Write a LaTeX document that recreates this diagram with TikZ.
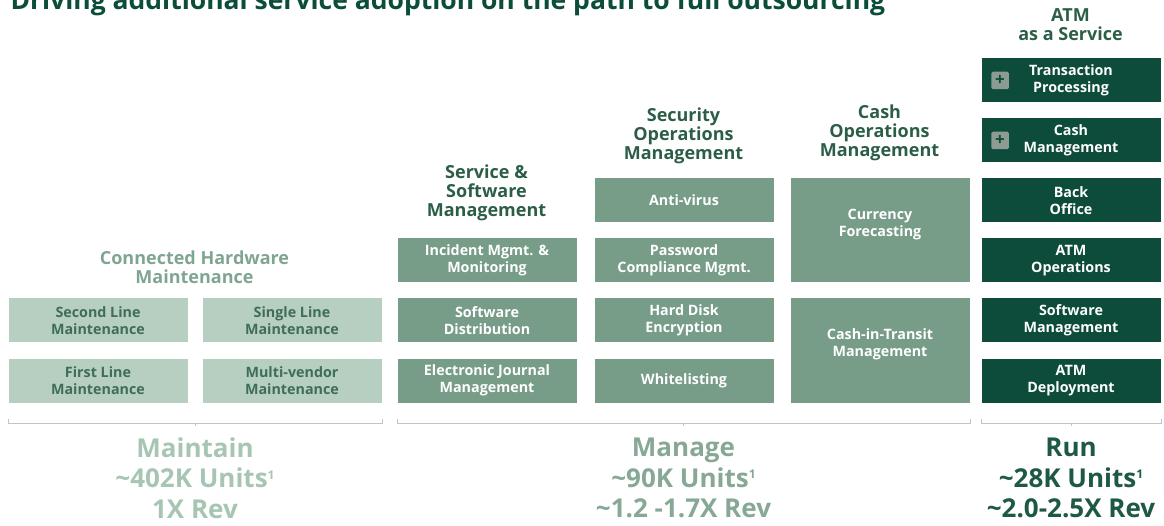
\documentclass[tikz,border=0pt]{standalone}
\usepackage{fontspec}
\setmainfont{Open Sans}
\usepackage{xcolor}
\definecolor{titlecolor}{HTML}{0B4D3A}
\definecolor{CHMcolor}{HTML}{B7CFC1}
\definecolor{CHMtext}{HTML}{3E6E55}
\definecolor{CHMhead}{HTML}{7FA592}
\definecolor{MGMcolor}{HTML}{779C88}
\definecolor{MGMhead}{HTML}{2C5E47}
\definecolor{RUNcolor}{HTML}{0D4C3A}
\definecolor{plusgray}{HTML}{8C9C93}
\definecolor{bracketgray}{HTML}{C4C4C4}
\definecolor{maintaincolor}{HTML}{A7C5B3}
\definecolor{managecolor}{HTML}{86A895}
\definecolor{runcolor}{HTML}{1E5943}
\usepackage{tikz}
\usetikzlibrary{%
        calc,
        math,
    }
% small superscript one
\newcommand{\supone}{\raisebox{8.5pt}{\fontsize{12}{12}\selectfont 1}}

\begin{document}
\begin{tikzpicture}[x=1pt, y=-1pt, line width=1pt]
    \tikzmath{%
        % box size
        \boxw=179;
        \boxh=44;
        \pitch=60;
        % left edges of the columns
        \xA=8;
        \xB=202;
        \xC=397;
        \xD=594;
        \xE=790;
        \xF=981;
        % top of the first row
        \ytop=58;
    };

    \tikzset{%
        cell/.style={anchor=north west, minimum width=\boxw, minimum height=\boxh, inner sep=0pt, align=center, font=\fontsize{14.3}{17}\selectfont\bfseries},
        chmbox/.style={cell, fill=CHMcolor, text=CHMtext},
        mgmbox/.style={cell, fill=MGMcolor, text=white},
        runbox/.style={cell, fill=RUNcolor, text=white},
        headtext/.style={align=center, inner sep=0pt, font=\fontsize{18}{19}\selectfont\bfseries},
        tiertext/.style={align=center, inner sep=0pt, font=\fontsize{26}{30.5}\selectfont\bfseries},
        plusicon/.style={fill=plusgray, minimum size=17.5, inner sep=0pt, rounded corners=1.5pt, text=RUNcolor, font=\fontsize{17}{17}\selectfont\bfseries},
        bracket/.style={draw=bracketgray, line width=0.8pt},
    }

    \useasboundingbox (0, 0) rectangle (1164, 526);

    % title
    \node (title) [anchor=base west, inner sep=0pt, text=titlecolor, font=\fontsize{26.5}{26.5}\selectfont\bfseries] at (10, 9.5) {Driving additional service adoption on the path to full outsourcing};

    % Connected Hardware Maintenance
    \node (chm) [headtext, text=CHMhead] at ({(\xA+\xB+\boxw)/2}, 267) {Connected Hardware\\Maintenance};
    \node (secondline) [chmbox] at (\xA, {\ytop+4*\pitch}) {Second Line\\Maintenance};
    \node (singleline) [chmbox] at (\xB, {\ytop+4*\pitch}) {Single Line\\Maintenance};
    \node (firstline) [chmbox] at (\xA, {\ytop+5*\pitch}) {First Line\\Maintenance};
    \node (multivendor) [chmbox] at (\xB, {\ytop+5*\pitch}) {Multi-vendor\\Maintenance};

    % Service & Software Management
    \node (ssm) [headtext, text=MGMhead] at ({\xC+\boxw/2}, 193) {Service \&\\Software\\Management};
    \node (incident) [mgmbox] at (\xC, {\ytop+3*\pitch}) {Incident Mgmt. \&\\Monitoring};
    \node (swdist) [mgmbox] at (\xC, {\ytop+4*\pitch}) {Software\\Distribution};
    \node (ejournal) [mgmbox] at (\xC, {\ytop+5*\pitch}) {Electronic Journal\\Management};

    % Security Operations Management
    \node (som) [headtext, text=MGMhead] at ({\xD+\boxw/2}, 136) {Security\\Operations\\Management};
    \node (antivirus) [mgmbox] at (\xD, {\ytop+2*\pitch}) {Anti-virus};
    \node (password) [mgmbox] at (\xD, {\ytop+3*\pitch}) {Password\\Compliance Mgmt.};
    \node (harddisk) [mgmbox] at (\xD, {\ytop+4*\pitch}) {Hard Disk\\Encryption};
    \node (whitelisting) [mgmbox] at (\xD, {\ytop+5*\pitch}) {Whitelisting};

    % Cash Operations Management
    \node (com) [headtext, text=MGMhead] at ({\xE+\boxw/2}, 133) {Cash\\Operations\\Management};
    \node (currency) [mgmbox, minimum height=\boxh+\pitch, text depth=16pt] at (\xE, {\ytop+2*\pitch}) {Currency\\Forecasting};
    \node (cit) [mgmbox, minimum height=\boxh+\pitch, text depth=16pt] at (\xE, {\ytop+4*\pitch}) {Cash-in-Transit\\Management};

    % ATM as a Service
    \node (aaas) [headtext, text=MGMhead] at ({\xF+\boxw/2}, 24.5) {ATM\\as a Service};
    \node (transaction) [runbox] at (\xF, {\ytop}) {Transaction\\Processing};
    \node (cashmgmt) [runbox] at (\xF, {\ytop+\pitch}) {Cash\\Management};
    \node (backoffice) [runbox] at (\xF, {\ytop+2*\pitch}) {Back\\Office};
    \node (atmops) [runbox] at (\xF, {\ytop+3*\pitch}) {ATM\\Operations};
    \node (swmgmt) [runbox] at (\xF, {\ytop+4*\pitch}) {Software\\Management};
    \node (deployment) [runbox] at (\xF, {\ytop+5*\pitch}) {ATM\\Deployment};
    \node (plusTP) [plusicon] at ($ (transaction.west) + (19, 0) $) {+};
    \node (plusCM) [plusicon] at ($ (cashmgmt.west) + (19, 0) $) {+};

    % brackets
    \draw [bracket] ($ (firstline.south west) + (0, 16) $) -- ++(0, 4) -| ($ (multivendor.south east) + (0, 16) $);
    \draw [bracket] ($ (firstline.south west)!0.5!(multivendor.south east) + (0, 20) $) -- ++(0, 3);
    \draw [bracket] ($ (ejournal.south west) + (0, 16) $) -- ++(0, 4) -| ($ (cit.south east) + (0, 16) $);
    \draw [bracket] ($ (ejournal.south west)!0.5!(cit.south east) + (0, 20) $) -- ++(0, 3);
    \draw [bracket] ($ (deployment.south west) + (0, 16) $) -- ++(0, 4) -| ($ (deployment.south east) + (0, 16) $);
    \draw [bracket] ($ (deployment.south) + (0, 20) $) -- ++(0, 3);

    % bottom text
    \node (maintain) [tiertext, text=maintaincolor] at ($ (firstline.south west)!0.5!(multivendor.south east) + (0, 75) $) {Maintain\\\textasciitilde402K Units\supone\\1X Rev};
    \node (manage) [tiertext, text=managecolor] at ($ (ejournal.south west)!0.5!(cit.south east) + (0, 75) $) {Manage\\\textasciitilde90K Units\supone\\\textasciitilde1.2 -1.7X Rev};
    \node (run) [tiertext, text=runcolor] at ($ (deployment.south) + (0, 75) $) {Run\\\textasciitilde28K Units\supone\\\textasciitilde2.0-2.5X Rev};
\end{tikzpicture}
\end{document}
